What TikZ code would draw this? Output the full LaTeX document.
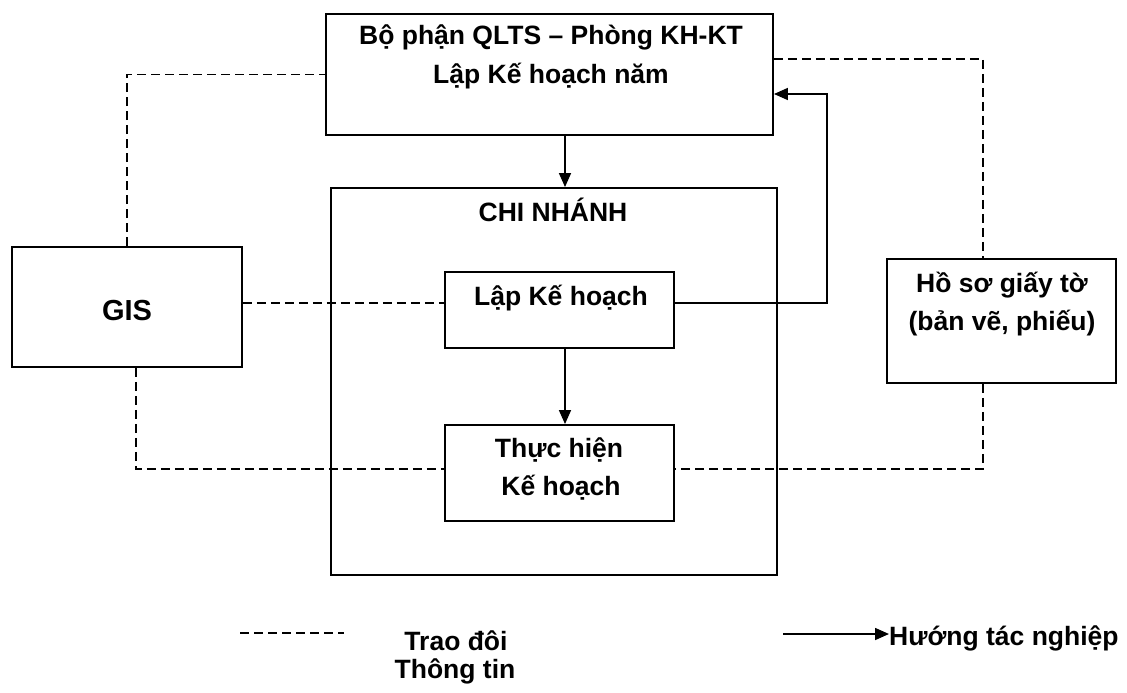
\documentclass[tikz,border=0pt]{standalone}
\usepackage{fontspec}
\setmainfont{Liberation Sans}
\usetikzlibrary{arrows.meta}
\begin{document}
\begin{tikzpicture}[x=1pt,y=-1pt,
  box/.style={draw=black,line width=1.9pt,inner sep=0pt,fill=none},
  txt/.style={inner sep=0pt,anchor=base,font=\fontsize{26.5}{30}\selectfont\bfseries},
  dsh/.style={draw=black,line width=1.6pt,dash pattern=on 9pt off 5pt},
  arr/.style={draw=black,line width=1.6pt,-{Triangle[width=12pt,length=14pt]}},
  ]
\useasboundingbox (0,0) rectangle (1127,693);
% boxes
\node[box,minimum width=447pt,minimum height=121pt] (top) at (549.5,74.5) {};
\node[box,minimum width=446pt,minimum height=387pt] (chi) at (554,381.5) {};
\node[box,minimum width=229pt,minimum height=76pt] (lap) at (559.5,310) {};
\node[box,minimum width=229pt,minimum height=96pt] (th) at (559.5,473) {};
\node[box,minimum width=230pt,minimum height=120pt] (gis) at (127,307) {};
\node[box,minimum width=229pt,minimum height=124pt] (hs) at (1001.5,321) {};
% texts
\node[txt] (t1) at (551,45) {Bộ phận QLTS – Phòng KH-KT};
\node[txt] (t2) at (551,83) {Lập Kế hoạch năm};
\node[txt] (t3) at (553,221) {CHI NHÁNH};
\node[txt] (t4) at (561,305) {Lập Kế hoạch};
\node[txt] (t5) at (559,457) {Thực hiện};
\node[txt] (t6) at (561,495) {Kế hoạch};
\node[txt,font=\fontsize{29}{32}\selectfont\bfseries] (t7) at (127,320) {GIS};
\node[txt] (t8) at (1002,292) {Hồ sơ giấy tờ};
\node[txt] (t9) at (1002,330) {(bản vẽ, phiếu)};
% dashed connectors
\draw[dsh] (gis.north) |- (top.west);
\draw[dsh] ([yshift=4pt]gis.east) coordinate (g1) -- (g1 -| lap.west);
\draw[dsh] ([xshift=9pt]gis.south) |- ([yshift=4pt]th.west);
\draw[dsh] ([yshift=15.5pt]top.east) -| ([xshift=-18.5pt]hs.north);
\draw[dsh] ([xshift=-18.5pt]hs.south) |- ([yshift=4pt]th.east);
% solid connectors
\draw[arr] ([xshift=15.5pt]top.south) coordinate (a1) -- (a1 |- chi.north);
\coordinate (bend) at (827,0);
\draw[arr] ([yshift=7pt]lap.east) coordinate (a2) -- (a2 -| bend) |- ([yshift=-19.5pt]top.east);
\draw[arr] ([xshift=5.5pt]lap.south) -- ([xshift=5.5pt]th.north);
% legend
\coordinate (l1) at (240,633);
\coordinate (l2) at (344,633);
\draw[dsh] (l1) -- (l2);
\node[txt] (lg1) at (456,650) {Trao đôi};
\node[txt] (lg2) at (455,678) {Thông tin};
\node[txt,anchor=base west] (hw) at (889,645) {Hướng tác nghiệp};
\coordinate (la) at (783,634);
\draw[arr] (la) -- (la -| hw.west);
\end{tikzpicture}
\end{document}
